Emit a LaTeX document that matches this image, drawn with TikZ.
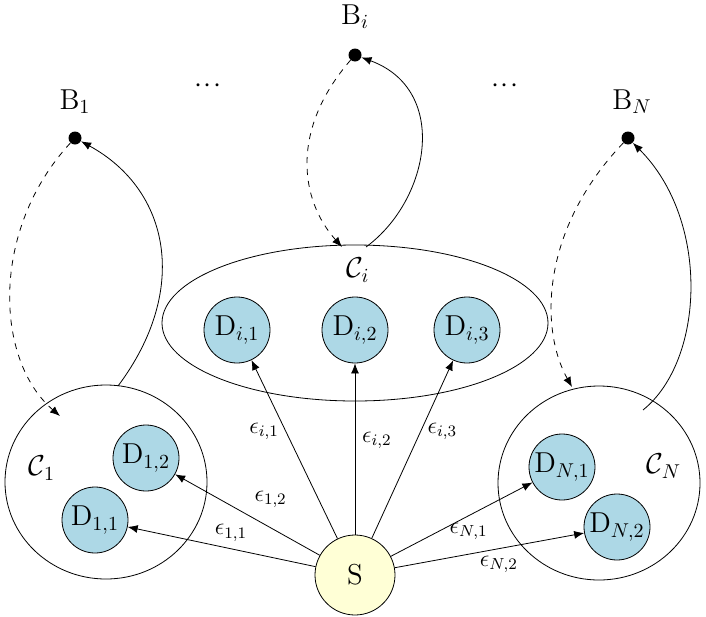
\documentclass[tikz,border=0pt]{standalone}
\usetikzlibrary{arrows.meta,shapes.geometric}
\begin{document}
\begin{tikzpicture}[x=0.5pt,y=-0.5pt,font=\Large,
  dev/.style={circle,draw,fill={rgb,255:red,173;green,216;blue,230},minimum size=33pt,inner sep=0pt},
  bs/.style={circle,fill=black,minimum size=6.5pt,inner sep=0pt},
  arr/.style={-{Latex[length=5pt,width=4pt]}},
  lbl/.style={font=\large}]
\useasboundingbox (0,0) rectangle (706,616);
% clusters
\draw (106,482) ellipse [x radius=101,y radius=97];
\draw (355,323) ellipse [x radius=193,y radius=78];
\draw (599,483) ellipse [x radius=101,y radius=97];
\node (C1) at (42,468) {$\mathcal{C}_1$};
\node (Ci) at (358,270) {$\mathcal{C}_i$};
\node (CN) at (664,466) {$\mathcal{C}_N$};
% devices
\node[dev] (D11) at (95,520) {D$_{1,1}$};
\node[dev] (D12) at (146,458) {D$_{1,2}$};
\node[dev] (Di1) at (237,330) {D$_{i,1}$};
\node[dev] (Di2) at (355,330) {D$_{i,2}$};
\node[dev] (Di3) at (467,330) {D$_{i,3}$};
\node[dev] (DN1) at (562,467) {D$_{N,1}$};
\node[dev] (DN2) at (617,527) {D$_{N,2}$};
\node[circle,draw,fill={rgb,255:red,255;green,255;blue,214},minimum size=40pt,inner sep=0pt] (S) at (355,575) {S};
% BS
\node[bs] (B1) at (75,138) {};
\node[bs] (Bi) at (355,55) {};
\node[bs] (BN) at (628,138) {};
\node (B1l) at (75,102) {B$_1$};
\node (Bil) at (355,17) {B$_i$};
\node (BNl) at (632,102) {B$_N$};
\node (dl) at (208,86) {$\cdot\!\cdot\!\cdot$};
\node (dr) at (505,86) {$\cdot\!\cdot\!\cdot$};
% links
\draw[arr] (S) -- node[lbl,above,pos=0.45] {$\epsilon_{1,1}$} (D11);
\draw[arr] (S) -- node[lbl,above right,pos=0.5] {$\epsilon_{1,2}$} (D12);
\draw[arr] (S) -- node[lbl,left,pos=0.6] {$\epsilon_{i,1}$} (Di1);
\draw[arr] (S) -- node[lbl,right,pos=0.55] {$\epsilon_{i,2}$} (Di2);
\draw[arr] (S) -- node[lbl,right,pos=0.6] {$\epsilon_{i,3}$} (Di3);
\draw[arr] (S) -- node[lbl,below,pos=0.55] {$\epsilon_{N,1}$} (DN1);
\draw[arr] (S) -- node[lbl,below,pos=0.55] {$\epsilon_{N,2}$} (DN2);
% feedback
\coordinate (c1t) at (60,416);
\coordinate (c1r) at (118,386);
\coordinate (cit) at (342,247);
\coordinate (cir) at (366,247);
\coordinate (cNt) at (572,387);
\coordinate (cNr) at (643,410);
\draw[arr,dashed] (B1) .. controls (-10,230) and (-5,360) .. (c1t);
\draw[arr] (c1r) .. controls (190,290) and (170,190) .. (B1);
\draw[arr,dashed] (Bi) .. controls (290,130) and (300,200) .. (cit);
\draw[arr] (cir) .. controls (430,200) and (450,90) .. (Bi);
\draw[arr,dashed] (BN) .. controls (540,230) and (540,330) .. (cNt);
\draw[arr] (cNr) .. controls (705,360) and (710,220) .. (BN);
\end{tikzpicture}
\end{document}
